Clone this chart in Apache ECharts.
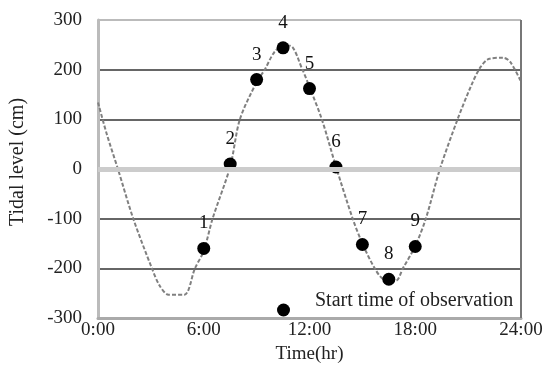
<!DOCTYPE html>
<html>
<head>
<meta charset="utf-8">
<script src="https://cdn.jsdelivr.net/npm/echarts@6/dist/echarts.min.js"></script>
<style>html,body{margin:0;padding:0;background:#fff}#c{width:546px;height:369px}</style>
</head>
<body>
<div id="c"></div>
<script>
// Tidal curve (hour, cm)
const curveHours = [0, 0.5, 1.13, 2, 3.06, 3.5, 4, 4.9, 5.5, 6, 6.5, 7.5, 8.05, 9, 9.46, 10, 10.5, 10.9, 11.6, 12, 12.7, 13.5, 14.45, 15, 15.7, 16.2, 16.9, 17.3, 18, 18.6, 19.4, 20.4, 21.2, 21.7, 22.2, 23, 23.4, 24];
const curveLevels = [134, 70, 0, -100, -200, -235, -253, -253, -200, -165, -100, 5, 100, 175, 200, 235, 248, 248, 200, 165, 100, 5, -100, -150, -200, -222, -225, -200, -155, -100, 0, 100, 170, 205, 222, 224, 215, 176];
// Observation start times
const obsLabels = ['1', '2', '3', '4', '5', '6', '7', '8', '9'];
const obsHours = [6, 7.5, 9, 10.5, 12, 13.5, 15, 16.5, 18];
const obsLevels = [-160, 10, 180, 244, 162, 4, -152, -222, -156];
const yTicks = [-300, -200, -100, 0, 100, 200, 300];
const xTickHours = [0, 6, 12, 18, 24];

const font = 'Liberation Serif, Times New Roman, serif';
const chart = echarts.init(document.getElementById('c'));
chart.setOption({
  animation: false,
  backgroundColor: '#fff',
  textStyle: { fontFamily: font },
  grid: { left: 98, right: 25, top: 20, bottom: 49 },
  legend: {
    data: ['Start time of observation'],
    left: 272, top: 286,
    itemWidth: 13, itemHeight: 13,
    formatter: '{t|{name}}',
    itemStyle: { opacity: 1 },
    textStyle: {
      fontFamily: font, fontSize: 20, color: '#222',
      rich: { t: { fontFamily: font, fontSize: 20, color: '#222', padding: [0, 0, 18, 20] } }
    }
  },
  xAxis: {
    type: 'value', min: 0, max: 24, interval: 6,
    name: 'Time(hr)', nameLocation: 'middle', nameGap: 27,
    nameTextStyle: { fontFamily: font, fontSize: 19, color: '#222' },
    axisLine: { show: true, onZero: false, lineStyle: { color: '#aaa', width: 3 } },
    axisTick: { show: false },
    splitLine: { show: false },
    axisLabel: { fontFamily: font, fontSize: 19, color: '#222', margin: 3, formatter: v => v + ':00', showMaxLabel: true, showMinLabel: true }
  },
  yAxis: {
    type: 'value', min: -300, max: 300, interval: 100,
    name: 'Tidal level (cm)', nameLocation: 'middle', nameGap: 70,
    nameTextStyle: { fontFamily: font, fontSize: 20, color: '#222', padding: [0, 0, 0, 14] },
    axisLine: { show: true, lineStyle: { color: '#bbb', width: 3 } },
    axisTick: { show: false },
    axisLabel: { fontFamily: font, fontSize: 19, color: '#222', margin: 16 },
    splitLine: { show: true, lineStyle: { color: ['#aaa', '#666', '#666', '#ccc', '#666', '#666', '#bbb'], width: 2 } }
  },
  series: [
    {
      type: 'line', name: 'curve', smooth: 0.3, showSymbol: false, symbol: 'none',
      data: curveHours.map((h, i) => [h, curveLevels[i]]),
      lineStyle: { color: '#808080', width: 2, type: [4, 2] },
      z: 3,
      markLine: {
        silent: true, symbol: 'none', label: { show: false },
        data: [
          { yAxis: yTicks[3], lineStyle: { color: '#ccc', width: 5, type: 'solid' } },
          { xAxis: xTickHours[4], lineStyle: { color: '#777', width: 2, type: 'solid' } }
        ]
      }
    },
    {
      type: 'scatter', name: 'Start time of observation',
      data: obsHours.map((h, i) => [h, obsLevels[i]]),
      symbol: 'circle', symbolSize: 13,
      itemStyle: { color: '#000', opacity: 1 },
      z: 4,
      label: {
        show: true, position: 'top', distance: 9,
        fontFamily: font, fontSize: 19, color: '#111',
        formatter: p => obsLabels[p.dataIndex]
      }
    }
  ]
});
</script>
</body>
</html>
